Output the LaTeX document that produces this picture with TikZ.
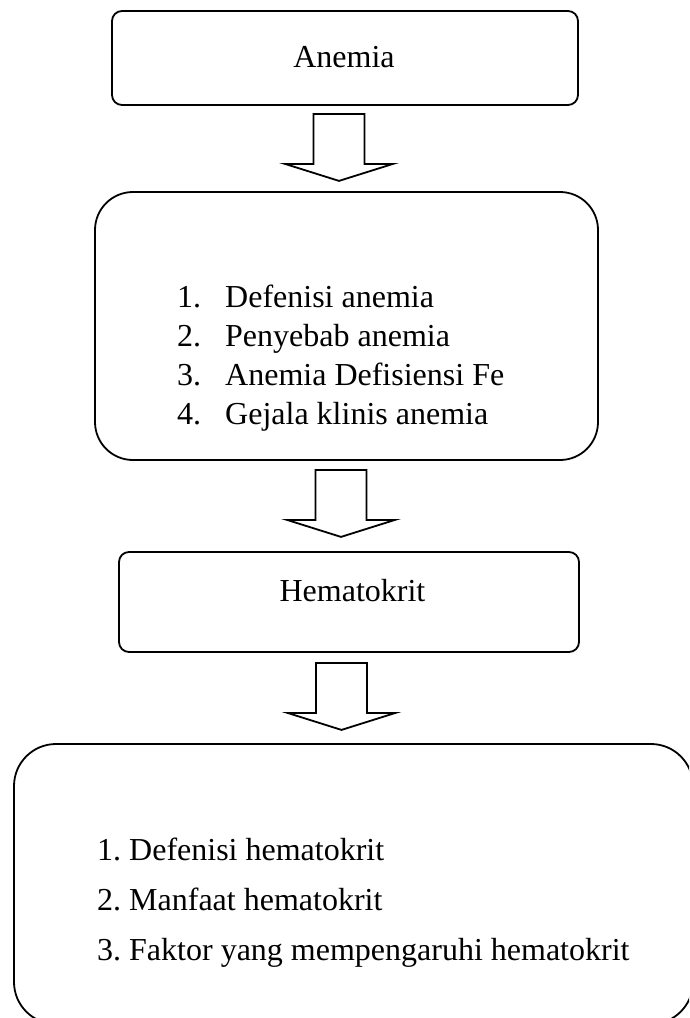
\documentclass[tikz,border=0pt]{standalone}
\usepackage{fontspec}
\setmainfont{Liberation Serif}
\usetikzlibrary{positioning}

\tikzset{
  box/.style={draw, line width=1.8pt, rounded corners=#1, inner sep=0pt},
  box/.default=10pt,
  txt/.style={inner sep=0pt, font=\fontsize{32}{39}\selectfont},
  blockarrow/.pic={
    \draw[line width=1.8pt, fill=white, line join=miter]
      (-25.5,0) -- (25.5,0) -- (25.5,50) -- (54,50) -- (0,67)
      -- (-54,50) -- (-25.5,50) -- cycle;
  }
}

\begin{document}
\begin{tikzpicture}[x=1pt, y=-1pt]
	\useasboundingbox (0,0) rectangle (689,1018);
	\clip (0,0) rectangle (689,1018);
	
	% boxes
	\node[box, minimum width=466pt, minimum height=94pt] (anemia) at (345,58) {};
	\node[box=38pt, minimum width=503pt, minimum height=268pt] (materi) at (346.5,326) {};
	\node[box, minimum width=460pt, minimum height=100pt] (hemato) at (349,602) {};
	\node[box=42pt, minimum width=679pt, minimum height=280pt] (faktor) at (353.5,884) {};
	
	% texts
	\node[txt, anchor=base] (anemiatext) at (344,67) {Anemia};
	\node[txt, anchor=base] (hematotext) at (352.5,601) {Hematokrit};
	
	\foreach \i/\t in {1/Defenisi anemia, 2/Penyebab anemia, 3/Anemia Defisiensi Fe, 4/Gejala klinis anemia} {
		\node[txt, anchor=base west] (num\i) at (177,{268+39*\i}) {\i.};
		\node[txt, anchor=base west] (item\i) at (225,{268+39*\i}) {\t};
	}
	
	\foreach \i/\t in {1/Defenisi hematokrit, 2/Manfaat hematokrit, 3/Faktor yang mempengaruhi hematokrit} {
		\node[txt, anchor=base west] (fak\i) at (97,{810+50*\i}) {\i.\ \t};
	}
	
	% arrows
	\path (anemia.south) ++(-6,8) pic {blockarrow};
	\path (materi.south) ++(-5.5,9) pic {blockarrow};
	\path (hemato.south) ++(-7.5,10) pic {blockarrow};
\end{tikzpicture}
\end{document}
